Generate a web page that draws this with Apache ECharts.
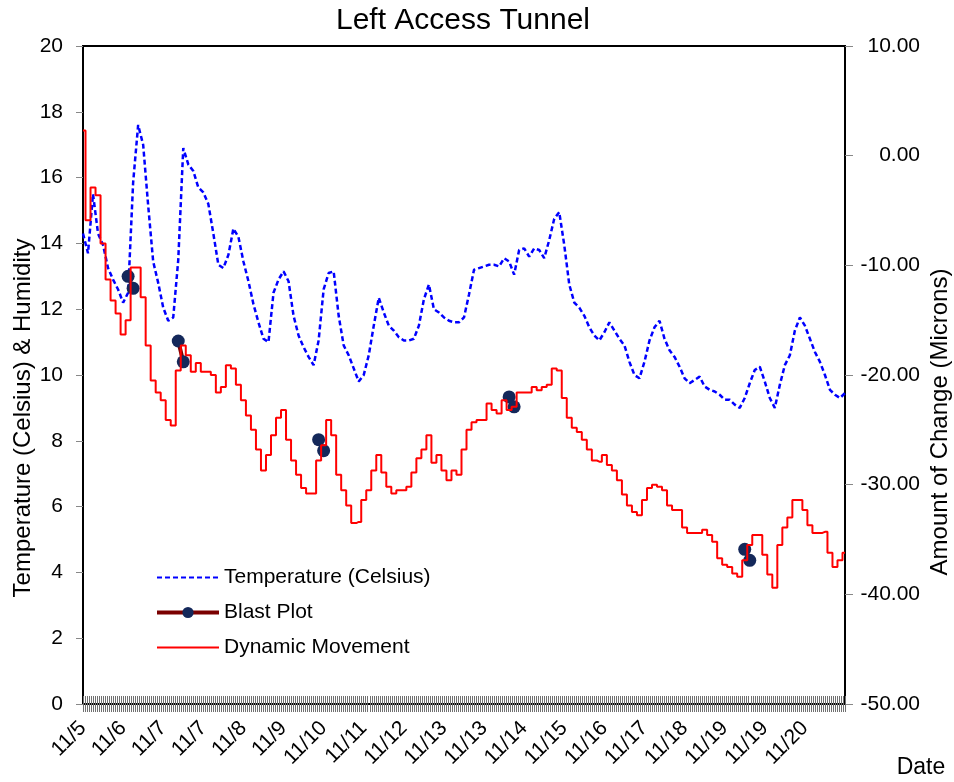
<!DOCTYPE html>
<html>
<head>
<meta charset="utf-8">
<script src="https://cdn.jsdelivr.net/npm/echarts@6/dist/echarts.min.js"></script>
<style>
html,body{margin:0;padding:0;background:#fff;}
#chart{width:954px;height:782px;}
</style>
</head>
<body>
<div id="chart"></div>
<script>
// ---- data ----
const tickLabels = ["11/5","11/6","11/7","11/7","11/8","11/9","11/10","11/11","11/12","11/13","11/13","11/14","11/15","11/16","11/17","11/18","11/19","11/19","11/20"];
const pointsPerLabel = 8;

const temperature = [
  14.3, 13.7, 15.5, 14.3, 13.95, 13.25, 12.9, 12.6, 12.2, 12.5,
  15.85, 17.6, 17.0, 15.15, 13.45, 12.8, 12.05, 11.65, 11.75, 13.5,
  16.9, 16.4, 16.2, 15.7, 15.55, 15.2, 14.3, 13.35, 13.25, 13.65,
  14.45, 14.2, 13.45, 12.85, 12.15, 11.6, 11.1, 11.0, 12.5, 12.9,
  13.15, 12.85, 11.8, 11.2, 10.85, 10.55, 10.3, 11.05, 12.6, 13.1,
  13.15, 11.8, 10.9, 10.6, 10.2, 9.8, 10.0, 10.6, 11.5, 12.35,
  11.9, 11.5, 11.35, 11.15, 11.05, 11.05, 11.1, 11.5, 12.3, 12.75,
  12.0, 11.9, 11.75, 11.65, 11.6, 11.6, 11.75, 12.45, 13.2, 13.25,
  13.3, 13.35, 13.35, 13.3, 13.55, 13.45, 13.05, 13.8, 13.85, 13.6,
  13.85, 13.8, 13.55, 14.1, 14.75, 14.95, 13.95, 12.75, 12.2, 12.05,
  11.8, 11.45, 11.2, 11.05, 11.3, 11.6, 11.35, 11.1, 10.9, 10.4,
  10.0, 9.9, 10.4, 11.05, 11.45, 11.65, 11.1, 10.75, 10.55, 10.25,
  9.9, 9.75, 9.85, 9.95, 9.65, 9.55, 9.5, 9.4, 9.25, 9.25,
  9.1, 9.0, 9.3, 9.75, 10.15, 10.25, 9.8, 9.3, 9.0, 9.7,
  10.3, 10.6, 11.35, 11.75, 11.5, 11.1, 10.7, 10.4, 10.0, 9.55,
  9.4, 9.3, 9.45
];

const movement = [
  2.3, -5.9, -2.9, -3.6, -8.0, -11.3, -13.2, -14.4, -16.3, -15.0,
  -10.2, -10.2, -12.9, -17.3, -20.5, -21.6, -22.3, -24.1, -24.6, -19.6,
  -17.3, -18.2, -19.7, -18.9, -19.7, -19.7, -20.0, -21.6, -21.1, -19.1,
  -19.4, -20.9, -22.3, -23.7, -25.0, -26.8, -28.7, -27.3, -25.5, -23.9,
  -23.2, -25.9, -27.8, -29.1, -30.3, -30.8, -30.8, -27.8, -26.4, -24.1,
  -25.5, -29.1, -30.5, -31.9, -33.5, -33.4, -31.4, -30.5, -28.7, -27.3,
  -28.9, -30.2, -30.8, -30.5, -30.5, -30.2, -28.9, -27.6, -26.8, -25.5,
  -28.0, -27.3, -28.7, -29.6, -28.7, -29.1, -26.8, -25.0, -24.3, -24.1,
  -24.1, -22.6, -23.2, -23.5, -22.3, -23.2, -22.9, -21.6, -21.6, -21.6,
  -21.1, -21.4, -21.1, -20.9, -19.4, -19.6, -22.1, -23.9, -24.8, -25.2,
  -25.9, -26.8, -27.8, -27.9, -27.3, -28.2, -28.7, -29.6, -30.9, -31.9,
  -32.5, -32.8, -31.4, -30.3, -30.0, -30.2, -30.5, -31.9, -32.3, -32.3,
  -33.9, -34.4, -34.4, -34.4, -34.1, -34.6, -35.2, -36.7, -37.3, -37.5,
  -38.1, -38.4, -36.9, -35.5, -34.6, -34.6, -36.4, -38.2, -39.4, -35.5,
  -33.9, -33.0, -31.4, -31.4, -32.3, -33.7, -34.4, -34.4, -34.3, -36.2,
  -37.5, -36.9, -36.2
];

const blastIndex = [9, 10, 19, 20, 47, 48, 85, 86, 132, 133];
const blastValue = [-11.0, -12.1, -16.9, -18.8, -25.9, -26.9, -22.0, -22.9, -35.9, -36.9];

// ---- build ----
const categories = movement.map((_, i) => String(i));
const blastData = movement.map(() => null);
blastIndex.forEach((idx, k) => { blastData[idx] = blastValue[k]; });
const tickBand = new Array(381).fill('');

const FONT = 'Liberation Sans, Arial, Helvetica, sans-serif';
const hidden = 'rgba(0,0,0,0)';

const chart = echarts.init(document.getElementById('chart'), null, {renderer: 'canvas'});

const bandAxis = (inside) => ({
  type: 'category', data: tickBand, position: 'bottom', boundaryGap: false,
  axisLine: {show: false, onZero: false},
  axisLabel: {show: false},
  splitLine: {show: false},
  axisTick: {show: true, interval: 0, inside: inside, length: 8, lineStyle: {color: '#707070', width: 1}}
});

chart.setOption({
  animation: false,
  backgroundColor: '#ffffff',
  grid: {left: 83, right: 109, top: 46, bottom: 78, show: true, borderColor: '#000', borderWidth: 2},
  xAxis: [
    {
      type: 'category', data: categories, position: 'bottom', boundaryGap: false,
      axisLine: {onZero: false, lineStyle: {color: '#000', width: 2}},
      axisTick: {show: false},
      splitLine: {show: false},
      axisLabel: {
        interval: pointsPerLabel - 1, rotate: 45, margin: 21, fontSize: 21, color: '#000', fontFamily: FONT,
        formatter: (v, i) => (i % pointsPerLabel === 0 && tickLabels[i / pointsPerLabel]) ? tickLabels[i / pointsPerLabel] : ''
      }
    },
    bandAxis(false),
    bandAxis(true)
  ],
  yAxis: [
    {
      type: 'value', position: 'left', min: 0, max: 20, interval: 2,
      axisLine: {show: true, lineStyle: {color: '#000', width: 2}},
      axisTick: {show: true, length: 7, lineStyle: {color: '#888'}},
      splitLine: {show: false},
      axisLabel: {margin: 20, fontSize: 21, color: '#000', fontFamily: FONT}
    },
    {
      type: 'value', position: 'right', min: -50, max: 10, interval: 10,
      axisLine: {show: true, lineStyle: {color: '#000', width: 2}},
      axisTick: {show: true, length: 8, lineStyle: {color: '#888'}},
      splitLine: {show: false},
      axisLabel: {margin: 75, align: 'right', fontSize: 21, color: '#000', fontFamily: FONT,
        formatter: v => v.toFixed(2)}
    }
  ],
  legend: {
    orient: 'vertical', left: 155, top: 567, padding: 0, itemGap: 14,
    itemWidth: 62, itemHeight: 14,
    textStyle: {fontSize: 21, color: '#000', fontFamily: FONT},
    data: [
      {name: 'Temperature (Celsius)', itemStyle: {color: hidden, borderColor: hidden, borderWidth: 0, opacity: 0}, lineStyle: {width: 2, color: '#0000ff', type: [5, 3]}},
      {name: 'Blast Plot', itemStyle: {color: '#14285a'}, lineStyle: {width: 4, color: '#7a0000'}},
      {name: 'Dynamic Movement', itemStyle: {color: hidden, borderColor: hidden, borderWidth: 0, opacity: 0}, lineStyle: {width: 2, color: '#ff0000'}}
    ]
  },
  series: [
    {
      name: 'Temperature (Celsius)', type: 'line', xAxisIndex: 0, yAxisIndex: 0,
      data: temperature, symbol: 'none', z: 2,
      lineStyle: {color: '#0000ff', width: 2.5, type: [5, 3]},
      itemStyle: {color: '#0000ff'}
    },
    {
      name: 'Blast Plot', type: 'line', xAxisIndex: 0, yAxisIndex: 1,
      data: blastData, symbol: 'circle', symbolSize: 13, showSymbol: true, showAllSymbol: true,
      connectNulls: false, z: 3,
      lineStyle: {color: '#7a0000', width: 4},
      itemStyle: {color: '#14285a'}
    },
    {
      name: 'Dynamic Movement', type: 'line', xAxisIndex: 0, yAxisIndex: 1,
      data: movement, symbol: 'none', z: 4, step: 'middle',
      lineStyle: {color: '#ff0000', width: 2},
      itemStyle: {color: '#ff0000'}
    }
  ],
  graphic: [
    {type: 'text', x: 463, y: 21, style: {text: 'Left Access Tunnel', font: '30px ' + FONT, fill: '#000', textAlign: 'center', textVerticalAlign: 'middle'}},
    {type: 'text', x: 23, y: 418, rotation: Math.PI / 2, style: {text: 'Temperature (Celsius) & Humidity', font: '24px ' + FONT, fill: '#000', textAlign: 'center', textVerticalAlign: 'middle'}},
    {type: 'text', x: 940, y: 422, rotation: Math.PI / 2, style: {text: 'Amount of Change (Microns)', font: '24px ' + FONT, fill: '#000', textAlign: 'center', textVerticalAlign: 'middle'}},
    {type: 'text', x: 921, y: 768, style: {text: 'Date', font: '23px ' + FONT, fill: '#000', textAlign: 'center', textVerticalAlign: 'middle'}}
  ]
});
</script>
</body>
</html>
